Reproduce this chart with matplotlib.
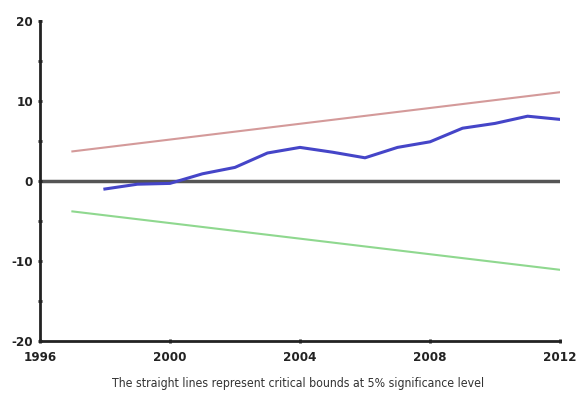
import matplotlib
matplotlib.use("Agg")
import matplotlib.pyplot as plt
from matplotlib.ticker import MultipleLocator

years = [1998, 1999, 2000, 2001, 2002, 2003, 2004, 2005, 2006, 2007, 2008, 2009, 2010, 2011, 2012]
cusum = [-1.0, -0.4, -0.3, 0.9, 1.7, 3.5, 4.2, 3.6, 2.9, 4.2, 4.9, 6.6, 7.2, 8.1, 7.7]
bound_years = [1997, 2012]
upper = [3.7, 11.1]
lower = [-3.8, -11.1]
xticks = [1996, 2000, 2004, 2008, 2012]
yticks = [-20, -10, 0, 10, 20]
caption = "The straight lines represent critical bounds at 5% significance level"

plt.rcParams['font.family'] = ['DejaVu Sans']
plt.rcParams['font.stretch'] = 'condensed'
plt.rcParams['axes.unicode_minus'] = False

fig = plt.figure(figsize=(5.78, 4.0), dpi=100)
ax = fig.add_axes([0.069, 0.1475, 0.9, 0.80])

ax.axhline(0, color='#555555', lw=2.5, zorder=1)
ax.plot(bound_years, upper, color='#d49a9a', lw=1.5)
ax.plot(bound_years, lower, color='#8fd88f', lw=1.5)
ax.plot(years, cusum, color='#4545c8', lw=2.2)

ax.set_xlim(1996, 2012)
ax.set_ylim(-20, 20)
ax.set_xticks(xticks)
ax.set_yticks(yticks)
ax.yaxis.set_minor_locator(MultipleLocator(5))
for s in ['top', 'right']:
    ax.spines[s].set_visible(False)
for s in ['left', 'bottom']:
    ax.spines[s].set_linewidth(2)
    ax.spines[s].set_color('#222222')
ax.tick_params(axis='both', which='both', length=3, width=2, direction='inout', color='#222222',
               labelsize=9.5)
ax.tick_params(axis='x', pad=6)
for lab in ax.get_xticklabels() + ax.get_yticklabels():
    lab.set_fontweight('bold')
    lab.set_fontstretch('condensed')
    lab.set_color('#222222')

fig.text(0.515, 0.042, caption, ha='center', va='center', fontsize=8.8, color='#333333',
         fontstretch='condensed')

fig.savefig("out.png", dpi=100)
